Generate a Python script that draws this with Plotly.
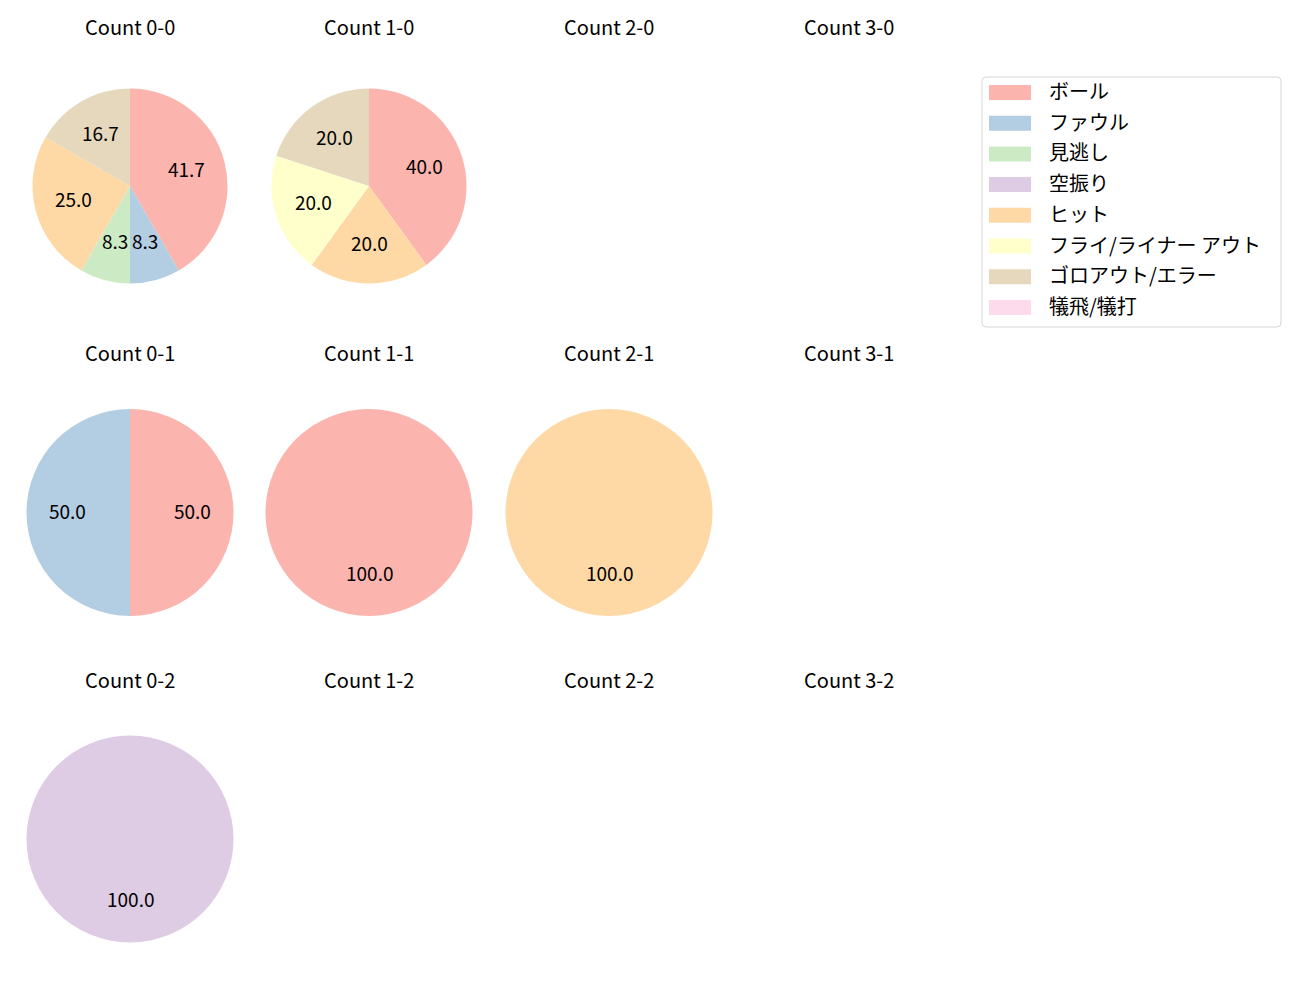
import math
import plotly.graph_objects as go

# ---- data ----
categories = ["ボール", "ファウル", "見逃し", "空振り", "ヒット",
              "フライ/ライナー アウト", "ゴロアウト/エラー", "犠飛/犠打"]
colors = ["#fbb4ae", "#b3cde3", "#ccebc5", "#decbe4", "#fed9a6",
          "#ffffcc", "#e5d8bd", "#fddaec"]
balls = [0, 1, 2, 3]
strikes = [0, 1, 2]
count_0_0 = [5, 1, 1, 0, 3, 0, 2, 0]
count_1_0 = [2, 0, 0, 0, 1, 1, 1, 0]
count_2_0 = []
count_3_0 = []
count_0_1 = [1, 1, 0, 0, 0, 0, 0, 0]
count_1_1 = [1, 0, 0, 0, 0, 0, 0, 0]
count_2_1 = [0, 0, 0, 0, 1, 0, 0, 0]
count_3_1 = []
count_0_2 = [0, 0, 0, 1, 0, 0, 0, 0]
count_1_2 = []
count_2_2 = []
count_3_2 = []
counts = {
    (0, 0): count_0_0, (1, 0): count_1_0, (2, 0): count_2_0, (3, 0): count_3_0,
    (0, 1): count_0_1, (1, 1): count_1_1, (2, 1): count_2_1, (3, 1): count_3_1,
    (0, 2): count_0_2, (1, 2): count_1_2, (2, 2): count_2_2, (3, 2): count_3_2,
}

# ---- layout (pixels) ----
W, H = 1300, 1000
FONT = "Noto Sans CJK JP, Noto Sans, sans-serif"
FS = 19
TFS = 20
LFS = 20
DY = -2.5  # vertical text baseline correction
col_cx = [130, 369, 609, 849]
row_cy = [186, 512.5, 839]
row_r = [97.5, 103.5, 103.5]
title_y = [29, 355, 682]


def px(x):
    return x / W


def py(y):
    return 1 - y / H


fig = go.Figure()
annotations = []
shapes = []

for ri, s in enumerate(strikes):
    for ci, b in enumerate(balls):
        cx, cy, r = col_cx[ci], row_cy[ri], row_r[ri]
        annotations.append(dict(
            x=px(cx - 0.5), y=py(title_y[ri] + DY), xref="paper", yref="paper",
            text=f"Count {b}-{s}", showarrow=False, xanchor="center",
            yanchor="middle", font=dict(family=FONT, size=TFS, color="black")))
        vals = counts[(b, s)]
        if not vals or sum(vals) == 0:
            continue
        labs = [categories[i] for i, v in enumerate(vals) if v > 0]
        vv = [v for v in vals if v > 0]
        cc = [colors[i] for i, v in enumerate(vals) if v > 0]
        fig.add_trace(go.Pie(
            labels=labs, values=vv, sort=False, direction="clockwise",
            rotation=0, textinfo="none", showlegend=False,
            marker=dict(colors=cc, line=dict(width=0)),
            domain=dict(x=[px(cx - r), px(cx + r)], y=[py(cy + r), py(cy - r)]),
        ))
        total = sum(vv)
        cum = 0
        for v in vv:
            mid = (cum + v / 2) / total
            cum += v
            theta = math.radians(90 - 360 * mid)
            tx = cx + 0.6 * r * math.cos(theta)
            ty = cy - 0.6 * r * math.sin(theta)
            annotations.append(dict(
                x=px(tx), y=py(ty + DY), xref="paper", yref="paper",
                text=f"{100 * v / total:.1f}", showarrow=False,
                xanchor="center", yanchor="middle",
                font=dict(family=FONT, size=FS, color="black")))

# ---- legend (manual, matplotlib style) ----
lx0, lx1, ly0, ly1, rad = 982, 1281, 77, 327, 4
path = (f"M {px(lx0 + rad)},{py(ly0)} L {px(lx1 - rad)},{py(ly0)} "
        f"Q {px(lx1)},{py(ly0)} {px(lx1)},{py(ly0 + rad)} "
        f"L {px(lx1)},{py(ly1 - rad)} Q {px(lx1)},{py(ly1)} {px(lx1 - rad)},{py(ly1)} "
        f"L {px(lx0 + rad)},{py(ly1)} Q {px(lx0)},{py(ly1)} {px(lx0)},{py(ly1 - rad)} "
        f"L {px(lx0)},{py(ly0 + rad)} Q {px(lx0)},{py(ly0)} {px(lx0 + rad)},{py(ly0)} Z")
shapes.append(dict(type="path", xref="paper", yref="paper", path=path,
                   fillcolor="rgba(255,255,255,0.8)",
                   line=dict(color="#d6d6d6", width=1)))
row0, step = 92.5, 30.7
for i, (lab, col) in enumerate(zip(categories, colors)):
    yc = row0 + i * step
    shapes.append(dict(type="rect", xref="paper", yref="paper",
                       x0=px(989), x1=px(1031), y0=py(yc - 7.5), y1=py(yc + 7.5),
                       fillcolor=col, line=dict(width=0)))
    annotations.append(dict(
        x=px(1047), y=py(yc + DY + 0.5), xref="paper", yref="paper", text=lab,
        showarrow=False, xanchor="left", yanchor="middle",
        font=dict(family=FONT, size=LFS, color="black")))

fig.update_layout(
    width=W, height=H, margin=dict(l=0, r=0, t=0, b=0),
    paper_bgcolor="white", plot_bgcolor="white",
    annotations=annotations, shapes=shapes, showlegend=False,
)
fig.write_html("out.html")
